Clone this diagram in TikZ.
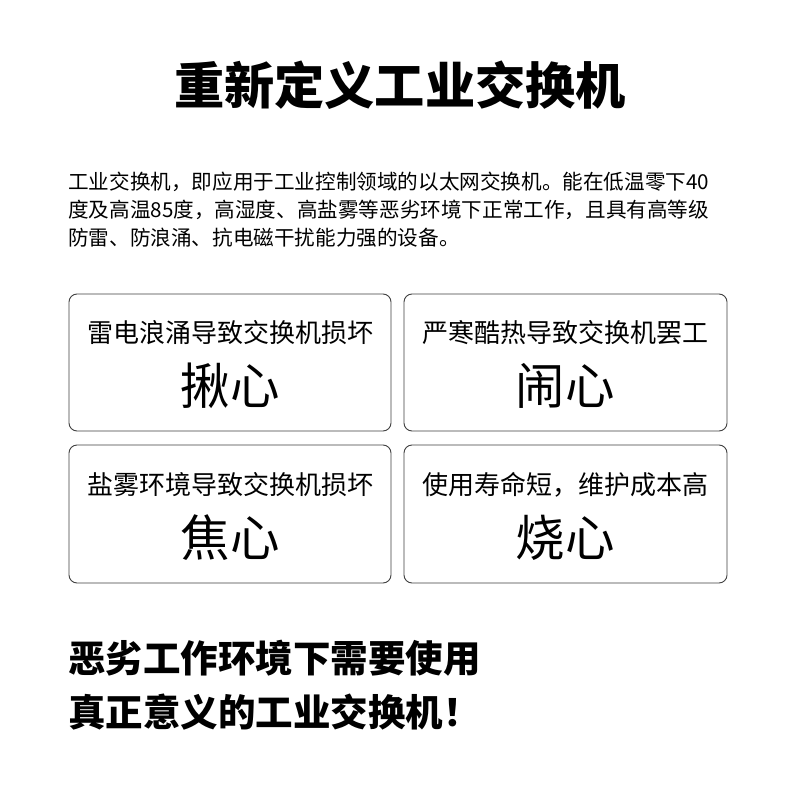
\documentclass[tikz,border=0pt]{standalone}
\usepackage{fontspec}
\setmainfont{Noto Sans CJK SC}
\newfontfamily\cjk{Noto Sans CJK SC}
\begin{document}
\begin{tikzpicture}[x=1pt,y=-1pt,
  card/.style={draw=black!75, line width=0.9pt, rounded corners=8pt},
  para/.style={anchor=west, inner sep=0pt, font=\cjk\fontsize{20.6}{24}\selectfont},
  small/.style={inner sep=0pt, font=\cjk\fontsize{26}{30}\selectfont},
  big/.style={inner sep=0pt, font=\cjk\fontsize{49.5}{56}\selectfont},
  bottom/.style={anchor=west, inner sep=0pt, font=\cjk\bfseries\fontsize{37.5}{42}\selectfont}]
\useasboundingbox[fill=white] (0,0) rectangle (800,800);
\node[inner sep=0pt, font=\cjk\bfseries\fontsize{50.2}{56}\selectfont] (title) at (400,85) {重新定义工业交换机};
\node[para] (p1) at (68,182) {工业交换机，即应用于工业控制领域的以太网交换机。能在低温零下40};
\node[para] (p2) at (68,210) {度及高温85度，高湿度、高盐雾等恶劣环境下正常工作，且具有高等级};
\node[para] (p3) at (68,238) {防雷、防浪涌、抗电磁干扰能力强的设备。};
\draw[card] (69,294) rectangle (391,431);
\draw[card] (404,294) rectangle (727,431);
\draw[card] (69,445) rectangle (391,583);
\draw[card] (404,445) rectangle (727,583);
\node[small] (a1) at (230,333) {雷电浪涌导致交换机损坏};
\node[big] (a2) at (230,386) {揪心};
\node[small] (b1) at (565,333) {严寒酷热导致交换机罢工};
\node[big] (b2) at (565,386) {闹心};
\node[small] (c1) at (230,485) {盐雾环境导致交换机损坏};
\node[big] (c2) at (230,538) {焦心};
\node[small] (d1) at (565,485) {使用寿命短，维护成本高};
\node[big] (d2) at (565,538) {烧心};
\node[bottom] (e1) at (68,658) {恶劣工作环境下需要使用};
\node[bottom] (e2) at (68,712) {真正意义的工业交换机！};
\end{tikzpicture}
\end{document}
